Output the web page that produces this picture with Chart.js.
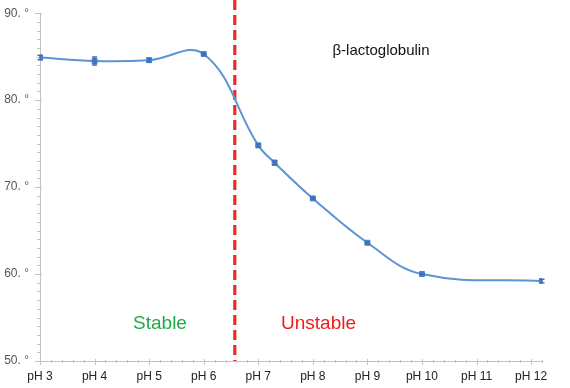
<!DOCTYPE html>
<html>
<head>
<meta charset="utf-8">
<script src="https://cdn.jsdelivr.net/npm/chart.js@4/dist/chart.umd.min.js"></script>
<style>
  html, body { margin: 0; padding: 0; background: #ffffff; }
  #wrap { width: 570px; height: 388px; position: relative; }
</style>
</head>
<body>
<div id="wrap"><canvas id="c" width="570" height="388"></canvas></div>
<script>
// ---- data ----
const phValues   = [3, 4, 5, 6, 7, 7.3, 8, 9, 10, 12.2];
const tmValues   = [84.9, 84.5, 84.6, 85.3, 74.8, 72.8, 68.7, 63.6, 60.0, 59.2];
const tmErrors   = [0.25, 0.45, 0.2, 0.1, 0.15, 0.25, 0.1, 0.1, 0.05, 0.2];
const xTickValues = [3, 4, 5, 6, 7, 8, 9, 10, 11, 12];
const xTickLabels = ['pH 3', 'pH 4', 'pH 5', 'pH 6', 'pH 7', 'pH 8', 'pH 9', 'pH 10', 'pH 11', 'pH 12'];
const yTickValues = [50, 60, 70, 80, 90];
const yTickLabels = ['50. °', '60. °', '70. °', '80. °', '90. °'];
const boundaryPH = 6.57;
const titleText = 'β-lactoglobulin';
const stableText = 'Stable';
const unstableText = 'Unstable';

const points = phValues.map((x, i) => ({ x: x, y: tmValues[i] }));

const axisColor = '#c3c3c3';

const extrasPlugin = {
  id: 'extras',
  beforeDatasetsDraw(chart) {
    const ctx = chart.ctx;
    const xs = chart.scales.x, ys = chart.scales.y;
    const area = chart.chartArea;
    ctx.save();
    ctx.strokeStyle = axisColor;
    ctx.lineWidth = 1;
    ctx.beginPath();
    // y axis ticks (major straddle axis, minor short)
    for (let v = ys.min; v <= ys.max + 1e-6; v += 1) {
      const py = Math.round(ys.getPixelForValue(v)) + 0.5;
      if (Math.abs(v % 10) < 1e-6) {
        ctx.moveTo(area.left - 5, py);
        ctx.lineTo(area.left + 2, py);
      } else {
        ctx.moveTo(area.left - 3, py);
        ctx.lineTo(area.left + 1, py);
      }
    }
    // x axis ticks
    for (let k = 0; ; k++) {
      const v = xs.min + k * 0.2;
      if (v > xs.max + 1e-6) break;
      const px = Math.round(xs.getPixelForValue(v)) + 0.5;
      if (Math.abs(v - Math.round(v)) < 1e-6) {
        ctx.moveTo(px, area.bottom - 2);
        ctx.lineTo(px, area.bottom + 4);
      } else {
        ctx.moveTo(px, area.bottom - 1);
        ctx.lineTo(px, area.bottom + 2);
      }
    }
    ctx.stroke();

    // dashed boundary line
    const bx = xs.getPixelForValue(boundaryPH);
    ctx.strokeStyle = '#ee2a24';
    ctx.lineWidth = 3.2;
    ctx.setLineDash([10, 5]);
    ctx.beginPath();
    ctx.moveTo(bx, 0);
    ctx.lineTo(bx, area.bottom);
    ctx.stroke();
    ctx.setLineDash([]);

    // texts
    ctx.font = '15px "Liberation Sans", Arial, sans-serif';
    ctx.fillStyle = '#111111';
    ctx.textAlign = 'center';
    ctx.textBaseline = 'alphabetic';
    ctx.fillText(titleText, 381, 54.5);

    ctx.font = '19px "Liberation Sans", Arial, sans-serif';
    ctx.fillStyle = '#22a84a';
    ctx.fillText(stableText, 160, 328.5);
    ctx.fillStyle = '#ee1c1c';
    ctx.textAlign = 'left';
    ctx.fillText(unstableText, 281, 328.5);
    ctx.restore();
  },
  afterDatasetsDraw(chart) {
    const ctx = chart.ctx;
    const xs = chart.scales.x, ys = chart.scales.y;
    ctx.save();
    ctx.strokeStyle = '#3f6fb8';
    ctx.lineWidth = 1.5;
    ctx.beginPath();
    phValues.forEach((x, i) => {
      const px = xs.getPixelForValue(x);
      const top = ys.getPixelForValue(tmValues[i] + tmErrors[i]);
      const bot = ys.getPixelForValue(tmValues[i] - tmErrors[i]);
      ctx.moveTo(px, top); ctx.lineTo(px, bot);
      ctx.moveTo(px - 2.5, top); ctx.lineTo(px + 2.5, top);
      ctx.moveTo(px - 2.5, bot); ctx.lineTo(px + 2.5, bot);
    });
    ctx.stroke();
    ctx.restore();
  }
};

new Chart(document.getElementById('c'), {
  type: 'line',
  data: {
    datasets: [{
      data: points,
      borderColor: '#5b95d6',
      borderWidth: 2,
      backgroundColor: '#4a7dc9',
      pointBackgroundColor: '#4a7dc9',
      pointBorderColor: '#4a7dc9',
      pointStyle: 'rect',
      pointRadius: 3.5,
      pointBorderWidth: 1,
      tension: 0.4,
      fill: false
    }]
  },
  options: {
    responsive: false,
    animation: false,
    devicePixelRatio: 1,
    layout: { padding: { left: 0, top: 10, right: 28, bottom: 0 } },
    plugins: { legend: { display: false }, tooltip: { enabled: false } },
    scales: {
      x: {
        type: 'linear',
        min: 3,
        max: 12.2,
        afterBuildTicks: (scale) => { scale.ticks = xTickValues.map(v => ({ value: v })); },
        afterFit: (scale) => { scale.height = 27; },
        ticks: {
          callback: (v) => xTickLabels[xTickValues.indexOf(v)],
          autoSkip: false,
          maxRotation: 0,
          padding: 3,
          color: '#222222',
          font: { family: '"Liberation Sans", Arial, sans-serif', size: 12 }
        },
        grid: { display: true, drawOnChartArea: false, drawTicks: true, tickLength: 5, color: axisColor, tickColor: 'rgba(0,0,0,0)' },
        border: { display: true, color: axisColor, width: 1 }
      },
      y: {
        type: 'linear',
        min: 50,
        max: 90,
        afterBuildTicks: (scale) => { scale.ticks = yTickValues.map(v => ({ value: v })); },
        afterFit: (scale) => { scale.width = 40; },
        ticks: {
          callback: (v) => yTickLabels[yTickValues.indexOf(v)],
          padding: 6,
          color: '#555555',
          font: { family: '"Liberation Sans", Arial, sans-serif', size: 12 }
        },
        grid: { display: true, drawOnChartArea: false, drawTicks: true, tickLength: 5, color: axisColor, tickColor: 'rgba(0,0,0,0)' },
        border: { display: true, color: axisColor, width: 1 }
      }
    }
  },
  plugins: [extrasPlugin]
});
</script>
</body>
</html>
